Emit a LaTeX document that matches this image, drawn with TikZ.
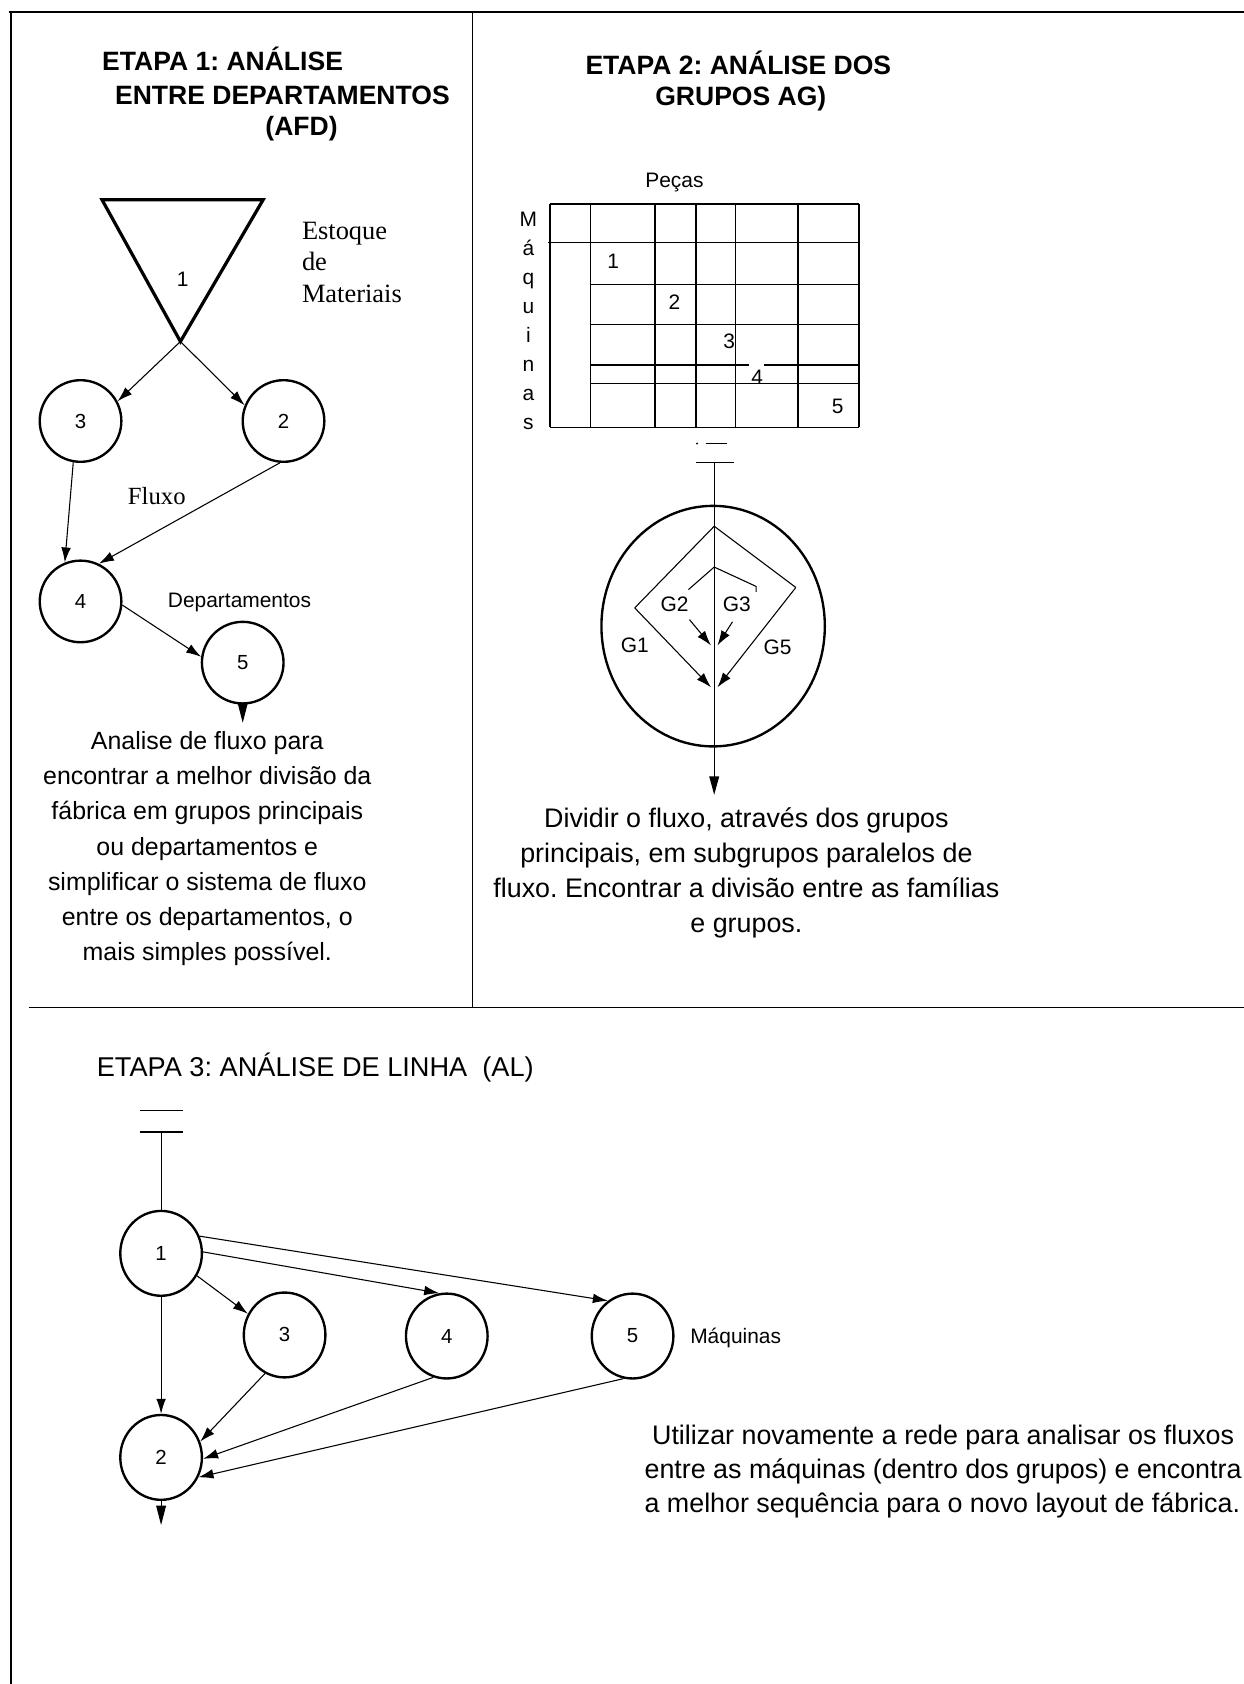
\documentclass[tikz,border=0pt]{standalone}
\usepackage{fontspec}
\setmainfont{Liberation Serif}
\setsansfont{Liberation Sans}
\usetikzlibrary{arrows.meta,shapes.geometric}
\frenchspacing

\begin{document}
\begin{tikzpicture}[x=1pt,y=-1pt,
  frameline/.style={line width=1.5pt},
  thinline/.style={line width=1pt},
  gridline/.style={line width=1.3pt},
  flow/.style={line width=1pt,-{Latex[length=14pt,width=9pt]}},
  outflow/.style={line width=1pt,-{Triangle[length=18pt,width=9pt]}},
  dept/.style={circle,draw,line width=2.2pt,minimum size=76pt,inner sep=0pt,
    font=\sffamily\fontsize{19}{19}\selectfont},
  mach/.style={ellipse,draw,line width=2.2pt,minimum width=76pt,minimum height=79pt,inner sep=0pt,
    font=\sffamily\fontsize{19}{19}\selectfont},
  titlebf/.style={inner sep=0pt,anchor=base west,font=\sffamily\bfseries\fontsize{24.7}{31}\selectfont},
  titlerg/.style={inner sep=0pt,anchor=base west,font=\sffamily\fontsize{25.3}{31}\selectfont},
  small/.style={inner sep=0pt,font=\sffamily\fontsize{19.5}{19.5}\selectfont},
  serif/.style={inner sep=0pt,font=\rmfamily\fontsize{24.6}{29}\selectfont},
]
\useasboundingbox (0,0) rectangle (1158,1568);

% ---------- frame ----------
\draw[line width=2pt] (8,11) -- (1158,11);
\draw[frameline] (10,11) -- (10,1568);
\draw[frameline] (440,11) -- (440,938);
\draw[frameline] (27,938) -- (1158,938);

% ---------- stage 1 ----------
\node[titlebf] (t1a) at (95,66) {ETAPA 1: ANÁLISE};
\node[titlebf] (t1b) at (107,97) {ENTRE DEPARTAMENTOS};
\node[titlebf] (t1c) at (247,126) {(AFD)};

\coordinate (triL) at (95,186);
\coordinate (triR) at (245,186);
\coordinate (apex) at (168,318);
\draw[line width=3pt,line join=miter] (triL) -- (triR) -- (apex) -- cycle;
\node[small] (tri1) at (170,260) {1};

\node[serif,anchor=north west,align=left] (stock) at (281,207) {Estoque\\de\\Materiais};

\node[dept] (c3) at (75,392) {3};
\node[dept] (c2) at (264,392) {2};
\node[dept] (c4) at (75,560) {4};
\node[dept] (c5) at (226,617) {5};

\node[serif,font=\rmfamily\fontsize{23}{23}\selectfont] (fluxo) at (146,462) {Fluxo};
\node[small] (deptlbl) at (223,561) {Departamentos};

\draw[flow] (apex) -- (c3.28);
\draw[flow] (apex) -- (c2.158);
\draw[flow] (c3.-100) -- (c4.112);
\draw[flow] (c2.-95) -- (c4.64);
\draw[flow] (c4.-5) -- (c5.172);
\coordinate (c5out) at (226,673);
\draw[outflow] (c5.south) -- (c5out);

\node[inner sep=0pt,anchor=north,align=center,font=\sffamily\fontsize{23.2}{32.7}\selectfont] (txt1) at (193,681)
  {Analise de fluxo para\\encontrar a melhor divisão da\\fábrica em grupos principais\\ou departamentos e\\simplificar o sistema de fluxo\\entre os departamentos, o\\mais simples possível.};

% ---------- stage 2 ----------
\node[titlebf] (t2a) at (545,69) {ETAPA 2: ANÁLISE DOS};
\node[titlebf] (t2b) at (610,98) {GRUPOS AG)};

\node[small] (pecas) at (628,170) {Peças};
\node[small,anchor=north,align=center,font=\sffamily\fontsize{19.5}{27}\selectfont] (maq) at (492,197)
  {M\\á\\q\\u\\i\\n\\a\\s};

% part / machine matrix
\foreach \gx in {512,550,610,648,685,743,800}
  \draw[gridline] (\gx,190) -- (\gx,398);
\draw[gridline] (512,190) -- (800,190);
\draw[gridline] (510,226) -- (800,226);
\draw[gridline] (550,265) -- (800,265);
\draw[gridline] (550,302) -- (800,302);
\draw[gridline] (550,340) -- (697,340);
\draw[gridline] (711,340) -- (800,340);
\draw[gridline] (550,357) -- (800,357);
\draw[gridline] (512,398) -- (800,398);
\node[small] (g1) at (571,243) {1};
\node[small] (g2) at (628,281) {2};
\node[small] (g3) at (679,318) {3};
\node[small] (g4) at (705,351) {4};
\node[small] (g5) at (780,378) {5};

% group flow
\fill (649,413) circle (1pt);
\draw[thinline] (657,413) -- (677,413);
\coordinate (grpIn) at (665,431);
\coordinate (grpOut) at (665,740);
\draw[thinline] (648,431) -- (683,431);
\node[ellipse,draw,line width=2.2pt,minimum width=208pt,minimum height=224pt,inner sep=0pt] (grp) at (664,583) {};
\draw[line width=1pt,-{Triangle[length=17pt,width=9pt]}] (grpIn) -- (grpOut);

\coordinate (oTop) at (665,490);
\coordinate (oL) at (591,566);
\coordinate (oR) at (741,547);
\coordinate (oBL) at (662,640);
\coordinate (oBR) at (668,640);
\draw[thinline] (oTop) -- (oL);
\draw[flow] (oL) -- (oBL);
\draw[thinline] (oTop) -- (oR);
\draw[flow] (oR) -- (oBR);

\coordinate (iTop) at (665,528);
\draw[thinline] (641,549) -- (iTop) -- (704,546) -- (704,551);
\draw[flow] (642,577) -- (662,601);
\draw[flow] (682,579) -- (668,601);

\node[small] (lg1) at (591,601) {G1};
\node[small] (lg2) at (628,563) {G2};
\node[small] (lg3) at (686,563) {G3};
\node[small] (lg5) at (724,603) {G5};

\node[inner sep=0pt,anchor=north,align=center,font=\sffamily\fontsize{25}{32.7}\selectfont] (txt2) at (695,752)
  {Dividir o fluxo, através dos grupos\\principais, em subgrupos paralelos de\\fluxo. Encontrar a divisão entre as famílias\\e grupos.};

% ---------- stage 3 ----------
\node[titlerg] (t3) at (90,1002) {ETAPA 3: ANÁLISE DE LINHA\ \ (AL)};

\draw[thinline] (130,1034) -- (170,1034);
\draw[thinline] (130,1054) -- (170,1054);
\coordinate (lineIn) at (150,1054);

\node[mach] (m1) at (150,1167) {1};
\node[mach] (m3) at (265,1243) {3};
\node[mach] (m4) at (416,1244) {4};
\node[mach] (m5) at (589,1244) {5};
\node[mach] (m2) at (150,1357) {2};
\node[small] (maqlbl) at (685,1246) {Máquinas};

\draw[thinline] (lineIn) -- (m1.north);
\draw[flow] (m1.-32) -- (m3.150);
\draw[flow] (m1.2) -- (m4.100);
\draw[flow] (m1.24) -- (m5.125);
\draw[flow] (m1.south) -- (m2.north);
\draw[flow] (m3.-117) -- (m2.22);
\draw[flow] (m4.-108) -- (m2.-2);
\draw[flow] (m5.-102) -- (m2.-28);
\coordinate (m2out) at (150,1420);
\draw[outflow] (m2.south) -- (m2out);

\node[inner sep=0pt,anchor=north west,align=left,font=\sffamily\fontsize{25}{31.5}\selectfont] (txt3) at (600,1327)
  {\hspace*{7pt}Utilizar novamente a rede para analisar os fluxos\\entre as máquinas (dentro dos grupos) e encontra\\a melhor sequência para o novo layout de fábrica.};
\end{tikzpicture}
\end{document}
